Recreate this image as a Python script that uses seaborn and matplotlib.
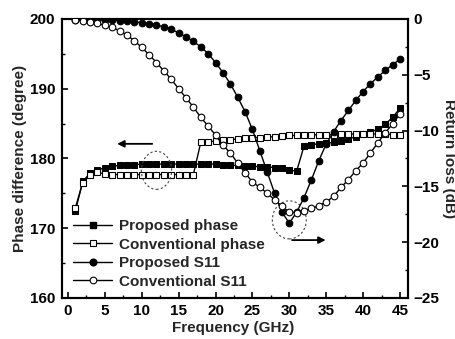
import numpy as np
import pandas as pd
import matplotlib
matplotlib.use("Agg")
import matplotlib.pyplot as plt
import seaborn as sns
from matplotlib.patches import Ellipse
from matplotlib.lines import Line2D
from matplotlib.ticker import MultipleLocator

freq = list(range(1, 46))

proposed_phase = [172.4, 176.7, 177.9, 178.3, 178.7, 178.9, 179.0, 179.1, 179.1, 179.2,
                  179.2, 179.2, 179.2, 179.2, 179.2, 179.2, 179.2, 179.2, 179.2, 179.2,
                  179.1, 179.0, 179.0, 178.9, 178.9, 178.8, 178.8, 178.7, 178.6, 178.3,
                  178.2, 181.8, 182.0, 182.1, 182.2, 182.3, 182.5, 182.8, 183.1, 183.5,
                  183.8, 184.2, 184.9, 185.9, 187.2]

conventional_phase = [172.9, 176.5, 177.6, 178.0, 177.8, 177.7, 177.7, 177.7, 177.7, 177.7,
                      177.7, 177.7, 177.7, 177.7, 177.7, 177.7, 177.7, 182.3, 182.4, 182.5,
                      182.6, 182.7, 182.8, 182.9, 183.0, 183.0, 183.1, 183.1, 183.2, 183.3,
                      183.3, 183.4, 183.4, 183.4, 183.4, 183.4, 183.5, 183.5, 183.5, 183.5,
                      183.5, 183.5, 183.5, 183.4, 183.4]

proposed_s11 = [-0.05, -0.05, -0.05, -0.08, -0.1, -0.12, -0.15, -0.2, -0.25, -0.32,
                -0.42, -0.55, -0.7, -0.92, -1.25, -1.6, -2.0, -2.5, -3.1, -3.9,
                -4.8, -5.8, -7.0, -8.3, -9.9, -11.8, -13.7, -15.6, -17.3, -18.3,
                -17.3, -16.0, -14.4, -12.7, -11.2, -10.1, -9.1, -8.2, -7.3, -6.5,
                -5.8, -5.2, -4.6, -4.1, -3.6]

conventional_s11 = [-0.1, -0.15, -0.25, -0.4, -0.55, -0.75, -1.05, -1.45, -1.95, -2.55,
                    -3.2, -3.9, -4.65, -5.4, -6.25, -7.05, -7.9, -8.8, -9.6, -10.4,
                    -11.3, -12.0, -12.9, -13.8, -14.6, -15.1, -15.6, -16.2, -16.8, -17.3,
                    -17.35, -17.2, -16.95, -16.75, -16.4, -15.9, -15.1, -14.4, -13.6, -12.9,
                    -12.0, -11.1, -10.2, -9.4, -8.5]

labels = ["Proposed phase", "Conventional phase", "Proposed S11", "Conventional S11"]

sns.set_theme(style="white")
plt.rcParams['font.family'] = ['Liberation Sans', 'DejaVu Sans']
plt.rcParams['font.weight'] = 'bold'

fig = plt.figure(figsize=(4.56, 3.39), dpi=100)
ax = fig.add_axes([0.136, 0.121, 0.759, 0.823])
ax2 = ax.twinx()

df = pd.DataFrame({"f": freq, "pp": proposed_phase, "cp": conventional_phase,
                   "ps": proposed_s11, "cs": conventional_s11})

ms = 4.8
lw = 1.0
sns.lineplot(data=df, x="f", y="pp", ax=ax, color="black", lw=lw, marker="s",
             markersize=ms, markerfacecolor="black", markeredgecolor="black", zorder=3)
sns.lineplot(data=df, x="f", y="cp", ax=ax, color="black", lw=lw, marker="s",
             markersize=ms, markerfacecolor="white", markeredgecolor="black",
             markeredgewidth=0.8, zorder=3)
sns.lineplot(data=df, x="f", y="ps", ax=ax2, color="black", lw=lw, marker="o",
             markersize=ms, markerfacecolor="black", markeredgecolor="black", zorder=3)
sns.lineplot(data=df, x="f", y="cs", ax=ax2, color="black", lw=lw, marker="o",
             markersize=ms, markerfacecolor="white", markeredgecolor="black",
             markeredgewidth=0.8, zorder=3)

ax.set_xlim(-0.8, 46.1)
ax.set_ylim(160, 200)
ax2.set_ylim(-25, 0)

ax.xaxis.set_major_locator(MultipleLocator(5))
ax.xaxis.set_minor_locator(MultipleLocator(2.5))
ax.yaxis.set_major_locator(MultipleLocator(10))
ax.yaxis.set_minor_locator(MultipleLocator(5))
ax2.yaxis.set_major_locator(MultipleLocator(5))
ax2.yaxis.set_minor_locator(MultipleLocator(2.5))

for a in (ax, ax2):
    for s in a.spines.values():
        s.set_color("black")
        s.set_linewidth(1.5)
    a.tick_params(which="both", direction="in", colors="black")
    a.tick_params(which="major", length=4, width=1.2)
    a.tick_params(which="minor", length=2.5, width=1.0)
    a.grid(False)

fs = 11
ax.tick_params(axis="x", which="both", bottom=True, top=False, labelsize=fs, pad=4)
ax.tick_params(axis="y", which="both", left=True, right=False, labelsize=fs, pad=5)
ax2.tick_params(axis="y", which="both", left=False, right=True, labelsize=fs, pad=4)
for lab in ax.get_xticklabels() + ax.get_yticklabels() + ax2.get_yticklabels():
    lab.set_fontweight("bold")

ax.set_xlabel("Frequency (GHz)", fontsize=fs, fontweight="bold", va="center", ha="center")
ax.xaxis.set_label_coords(0.494, -0.108)
ax.set_ylabel("Phase difference (degree)", fontsize=fs, fontweight="bold",
              va="center", ha="center")
ax.yaxis.set_label_coords(-0.121, 0.5)
ax2.set_ylabel("Return loss (dB)", fontsize=fs, fontweight="bold", rotation=-90,
               va="center", ha="center")
ax2.yaxis.set_label_coords(1.118, 0.5)

# arrows
ax.annotate("", xy=(6.3, 182.1), xytext=(11.8, 182.1),
            arrowprops=dict(arrowstyle="-|>", color="black", lw=1.3, mutation_scale=10))
ax.annotate("", xy=(35.3, 168.3), xytext=(30.0, 168.3),
            arrowprops=dict(arrowstyle="-|>", color="black", lw=1.3, mutation_scale=10))

# dashed circles
ax.add_patch(Ellipse((12.0, 178.3), 4.1, 5.45, fill=False, ls=(0, (2, 2)),
                     lw=0.8, ec="#444444", zorder=4))
ax.add_patch(Ellipse((30.0, 171.2), 4.6, 5.45, fill=False, ls=(0, (2, 2)),
                     lw=0.8, ec="#444444", zorder=4))

handles = [
    Line2D([], [], color="black", lw=lw, marker="s", markersize=ms, markerfacecolor="black"),
    Line2D([], [], color="black", lw=lw, marker="s", markersize=ms, markerfacecolor="white", markeredgewidth=0.8),
    Line2D([], [], color="black", lw=lw, marker="o", markersize=ms, markerfacecolor="black"),
    Line2D([], [], color="black", lw=lw, marker="o", markersize=ms, markerfacecolor="white", markeredgewidth=0.8),
]
if ax2.get_legend() is not None:
    ax2.get_legend().remove()
leg = ax2.legend(handles, labels, loc="lower left", bbox_to_anchor=(0.0, -0.005),
                 frameon=False, fontsize=11, handlelength=2.6, handletextpad=0.4,
                 labelspacing=0.3, borderaxespad=0.3)
for t in leg.get_texts():
    t.set_fontweight("bold")

fig.savefig("out.png", dpi=100)
